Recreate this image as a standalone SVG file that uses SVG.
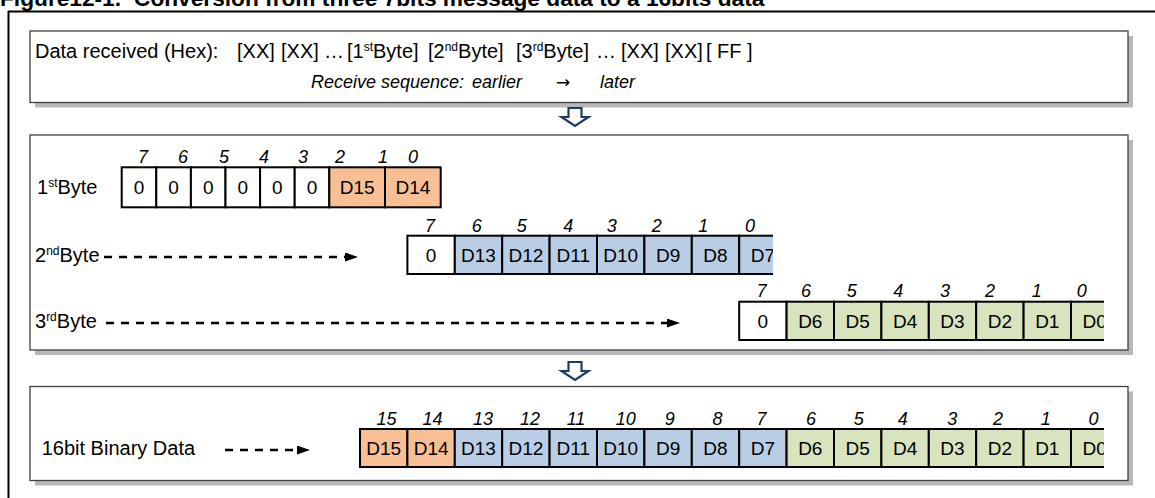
<svg xmlns="http://www.w3.org/2000/svg" width="1155" height="498" viewBox="0 0 1155 498">
<defs>
<style>
text{font-family:"Liberation Sans",Arial,sans-serif;fill:#000}
.title{font-weight:bold;font-size:22.7px}
.t1{font-size:20px}
.seq{font-size:18px;font-style:italic}
.arr{font-family:"DejaVu Sans",sans-serif;font-size:17px}
.lbl{font-size:20px}
.bit{font-size:18px;font-style:italic;text-anchor:middle}
.cv{font-size:19px;text-anchor:middle}
.box{fill:#fff;stroke:#404040;stroke-width:1.3}
.shadow{fill:#b8b8b8}
.cell{stroke:#000;stroke-width:2}
.w{fill:#fff}
.o{fill:#f9bf94}
.b{fill:#b9cde5}
.g{fill:#d7e4bd}
.dash{stroke:#000;stroke-width:2.6;stroke-dasharray:8 7;fill:none}
.down{fill:#fff;stroke:#1f3b63;stroke-width:2.2;stroke-linejoin:miter}
</style>
<marker id="ah" markerUnits="userSpaceOnUse" markerWidth="14" markerHeight="10" refX="0" refY="4.5" orient="auto"><path d="M0,0 L13,4.5 L0,9 z" fill="#000"/></marker>
<clipPath id="c2"><rect x="0" y="0" width="773" height="498"/></clipPath>
<clipPath id="c34"><rect x="0" y="0" width="1104" height="498"/></clipPath>
</defs>

<g id="frame">
<text class="title" x="0" y="6">Figure12-1.<tspan x="134">Conversion from three 7bits message data to a 16bits data</tspan></text>
<line x1="8" y1="11.5" x2="1155" y2="11.5" stroke="#000" stroke-width="2"/>
<line x1="8.5" y1="11" x2="8.5" y2="498" stroke="#000" stroke-width="2"/>
</g>

<g id="box-received">
<rect class="shadow" x="35" y="36" width="1098" height="71.5"/>
<rect class="box" x="30" y="31" width="1098" height="71.5"/>
<text class="t1" x="35" y="58">Data received (Hex):</text>
<text class="t1" x="237" y="58">[XX]</text>
<text class="t1" x="281" y="58">[XX]</text>
<text class="t1" x="324" y="58">…</text>
<text class="t1" x="347" y="58">[1<tspan font-size="12" dy="-7">st</tspan><tspan dy="7">Byte]</tspan></text>
<text class="t1" x="428" y="58">[2<tspan font-size="12" dy="-7">nd</tspan><tspan dy="7">Byte]</tspan></text>
<text class="t1" x="516" y="58">[3<tspan font-size="12" dy="-7">rd</tspan><tspan dy="7">Byte]</tspan></text>
<text class="t1" x="596" y="58">…</text>
<text class="t1" x="621" y="58">[XX]</text>
<text class="t1" x="665" y="58">[XX]</text>
<text class="t1" x="706" y="58">[ FF ]</text>
<text class="seq" x="311" y="88">Receive sequence:</text>
<text class="seq" x="472" y="88">earlier</text>
<text class="arr" x="556" y="88">→</text>
<text class="seq" x="600" y="88">later</text>
</g>

<g id="box-bytes">
<rect class="shadow" x="35" y="140" width="1098" height="215"/>
<rect class="box" x="30" y="135" width="1098" height="215"/>
</g>

<g id="byte1">
<text class="lbl" x="37" y="194">1<tspan font-size="12" dy="-7">st</tspan><tspan dy="7">Byte</tspan></text>
<text class="bit" x="143" y="163">7</text><text class="bit" x="183" y="163">6</text><text class="bit" x="224" y="163">5</text><text class="bit" x="264" y="163">4</text><text class="bit" x="303" y="163">3</text><text class="bit" x="340" y="163">2</text><text class="bit" x="383" y="163">1</text><text class="bit" x="413" y="163">0</text>
<rect class="cell w" x="121.7" y="167.3" width="34.6" height="40"/>
<rect class="cell w" x="156.3" y="167.3" width="34.6" height="40"/>
<rect class="cell w" x="190.9" y="167.3" width="34.6" height="40"/>
<rect class="cell w" x="225.5" y="167.3" width="34.6" height="40"/>
<rect class="cell w" x="260.1" y="167.3" width="34.6" height="40"/>
<rect class="cell w" x="294.7" y="167.3" width="34.6" height="40"/>
<rect class="cell o" x="329.3" y="167.3" width="55.7" height="40"/>
<rect class="cell o" x="385" y="167.3" width="55.7" height="40"/>
<text class="cv" x="139" y="194">0</text><text class="cv" x="173.6" y="194">0</text><text class="cv" x="208.2" y="194">0</text><text class="cv" x="242.8" y="194">0</text><text class="cv" x="277.4" y="194">0</text><text class="cv" x="312" y="194">0</text><text class="cv" x="357.2" y="194">D15</text><text class="cv" x="412.9" y="194">D14</text>
</g>

<g id="byte2">
<text class="lbl" x="35" y="262">2<tspan font-size="12" dy="-7">nd</tspan><tspan dy="7">Byte</tspan></text>
<text class="bit" x="430" y="231.7">7</text><text class="bit" x="476.7" y="231.7">6</text><text class="bit" x="521.7" y="231.7">5</text><text class="bit" x="568.3" y="231.7">4</text><text class="bit" x="611.7" y="231.7">3</text><text class="bit" x="656.7" y="231.7">2</text><text class="bit" x="703.3" y="231.7">1</text><text class="bit" x="750" y="231.7">0</text>
<g clip-path="url(#c2)">
<rect class="cell w" x="407.4" y="235.7" width="47.4" height="38.3"/>
<rect class="cell b" x="454.8" y="235.7" width="47.4" height="38.3"/>
<rect class="cell b" x="502.2" y="235.7" width="47.4" height="38.3"/>
<rect class="cell b" x="549.6" y="235.7" width="47.4" height="38.3"/>
<rect class="cell b" x="597" y="235.7" width="47.4" height="38.3"/>
<rect class="cell b" x="644.4" y="235.7" width="47.4" height="38.3"/>
<rect class="cell b" x="691.8" y="235.7" width="47.4" height="38.3"/>
<rect class="cell b" x="739.2" y="235.7" width="47.4" height="38.3"/>
<text class="cv" x="431.1" y="262">0</text><text class="cv" x="478.5" y="262">D13</text><text class="cv" x="525.9" y="262">D12</text><text class="cv" x="573.3" y="262">D11</text><text class="cv" x="620.7" y="262">D10</text><text class="cv" x="668.1" y="262">D9</text><text class="cv" x="715.5" y="262">D8</text><text class="cv" x="762.9" y="262">D7</text>
</g>
</g>

<g id="byte3">
<text class="lbl" x="35" y="328">3<tspan font-size="12" dy="-7">rd</tspan><tspan dy="7">Byte</tspan></text>
<text class="bit" x="761.7" y="297">7</text><text class="bit" x="806" y="297">6</text><text class="bit" x="851.7" y="297">5</text><text class="bit" x="898.3" y="297">4</text><text class="bit" x="945" y="297">3</text><text class="bit" x="990" y="297">2</text><text class="bit" x="1036.7" y="297">1</text><text class="bit" x="1081.7" y="297">0</text>
<g clip-path="url(#c34)">
<rect class="cell w" x="739.2" y="301.7" width="47.4" height="38.3"/>
<rect class="cell g" x="786.6" y="301.7" width="47.4" height="38.3"/>
<rect class="cell g" x="834" y="301.7" width="47.4" height="38.3"/>
<rect class="cell g" x="881.4" y="301.7" width="47.4" height="38.3"/>
<rect class="cell g" x="928.8" y="301.7" width="47.4" height="38.3"/>
<rect class="cell g" x="976.2" y="301.7" width="47.4" height="38.3"/>
<rect class="cell g" x="1023.6" y="301.7" width="47.4" height="38.3"/>
<rect class="cell g" x="1071" y="301.7" width="47.4" height="38.3"/>
<text class="cv" x="762.9" y="328">0</text><text class="cv" x="810.3" y="328">D6</text><text class="cv" x="857.7" y="328">D5</text><text class="cv" x="905.1" y="328">D4</text><text class="cv" x="952.5" y="328">D3</text><text class="cv" x="999.9" y="328">D2</text><text class="cv" x="1047.3" y="328">D1</text><text class="cv" x="1094.7" y="328">D0</text>
</g>
</g>

<g id="box-result">
<rect class="shadow" x="35" y="391.5" width="1098" height="94"/>
<rect class="box" x="30" y="386.5" width="1098" height="94"/>
</g>

<g id="result16">
<text class="lbl" x="41.7" y="455">16bit Binary Data</text>
<text class="bit" x="386.5" y="425">15</text><text class="bit" x="432.4" y="425">14</text><text class="bit" x="483" y="425">13</text><text class="bit" x="530" y="425">12</text><text class="bit" x="576" y="425">11</text><text class="bit" x="625.8" y="425">10</text><text class="bit" x="669.8" y="425">9</text><text class="bit" x="717.5" y="425">8</text><text class="bit" x="761.5" y="425">7</text><text class="bit" x="811" y="425">6</text><text class="bit" x="858.7" y="425">5</text><text class="bit" x="902.7" y="425">4</text><text class="bit" x="952.2" y="425">3</text><text class="bit" x="998" y="425">2</text><text class="bit" x="1045.7" y="425">1</text><text class="bit" x="1093.4" y="425">0</text>
<g clip-path="url(#c34)">
<rect class="cell o" x="360" y="429" width="47.4" height="38"/>
<rect class="cell o" x="407.4" y="429" width="47.4" height="38"/>
<rect class="cell b" x="454.8" y="429" width="47.4" height="38"/>
<rect class="cell b" x="502.2" y="429" width="47.4" height="38"/>
<rect class="cell b" x="549.6" y="429" width="47.4" height="38"/>
<rect class="cell b" x="597" y="429" width="47.4" height="38"/>
<rect class="cell b" x="644.4" y="429" width="47.4" height="38"/>
<rect class="cell b" x="691.8" y="429" width="47.4" height="38"/>
<rect class="cell b" x="739.2" y="429" width="47.4" height="38"/>
<rect class="cell g" x="786.6" y="429" width="47.4" height="38"/>
<rect class="cell g" x="834" y="429" width="47.4" height="38"/>
<rect class="cell g" x="881.4" y="429" width="47.4" height="38"/>
<rect class="cell g" x="928.8" y="429" width="47.4" height="38"/>
<rect class="cell g" x="976.2" y="429" width="47.4" height="38"/>
<rect class="cell g" x="1023.6" y="429" width="47.4" height="38"/>
<rect class="cell g" x="1071" y="429" width="47.4" height="38"/>
<text class="cv" x="383.7" y="455">D15</text><text class="cv" x="431.1" y="455">D14</text><text class="cv" x="478.5" y="455">D13</text><text class="cv" x="525.9" y="455">D12</text><text class="cv" x="573.3" y="455">D11</text><text class="cv" x="620.7" y="455">D10</text><text class="cv" x="668.1" y="455">D9</text><text class="cv" x="715.5" y="455">D8</text><text class="cv" x="762.9" y="455">D7</text><text class="cv" x="810.3" y="455">D6</text><text class="cv" x="857.7" y="455">D5</text><text class="cv" x="905.1" y="455">D4</text><text class="cv" x="952.5" y="455">D3</text><text class="cv" x="999.9" y="455">D2</text><text class="cv" x="1047.3" y="455">D1</text><text class="cv" x="1094.7" y="455">D0</text>
</g>
</g>

<g id="connectors">
<line class="dash" x1="104" y1="257" x2="345" y2="257" marker-end="url(#ah)"/>
<line class="dash" x1="106" y1="323" x2="667" y2="323" marker-end="url(#ah)"/>
<line class="dash" x1="225" y1="450" x2="297" y2="450" marker-end="url(#ah)"/>
<path class="down" d="M568.5,108 h13 v9 h7 l-13.5,9 l-13.5,-9 h7 z"/>
<path class="down" d="M568.5,362 h13 v9 h7 l-13.5,9 l-13.5,-9 h7 z"/>
</g>
</svg>
